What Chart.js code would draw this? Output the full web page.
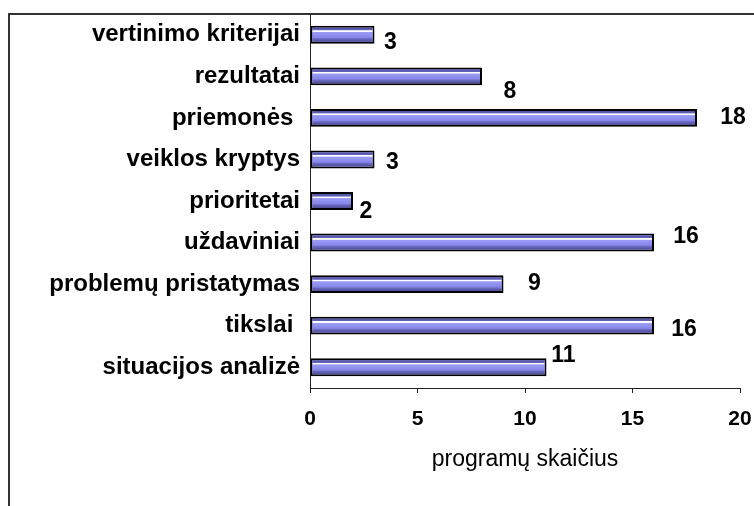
<!DOCTYPE html>
<html>
<head>
<meta charset="utf-8">
<script src="https://cdn.jsdelivr.net/npm/chart.js@4"></script>
<style>
  html, body { margin: 0; padding: 0; background: #fff; }
  #wrap { width: 754px; height: 506px; }
</style>
</head>
<body>
<div id="wrap"><canvas id="chart" width="754" height="506"></canvas></div>
<script>
const categories = ['vertinimo kriterijai', 'rezultatai', 'priemonės ', 'veiklos kryptys', 'prioritetai',
  'uždaviniai', 'problemų pristatymas', 'tikslai ', 'situacijos analizė'];
const programCounts = [3, 8, 18, 3, 2, 16, 9, 16, 11];
const xTicks = [0, 5, 10, 15, 20];
// where each value label sits relative to the bar end (px)
const labelNudge = [[16, 8], [28, 15], [36, 0], [18, 3], [13, 11], [32, -6], [31, 0], [30, 4], [17, -12]];

const FONT = "'Liberation Sans', Arial, sans-serif";

const framePlugin = {
  id: 'frame',
  beforeDraw(chart) {
    const ctx = chart.ctx;
    ctx.save();
    ctx.strokeStyle = '#333';
    ctx.lineWidth = 2;
    ctx.beginPath();
    ctx.moveTo(754, 14);
    ctx.lineTo(9, 14);
    ctx.lineTo(9, 506);
    ctx.stroke();
    ctx.restore();
  }
};

const barShadePlugin = {
  id: 'barShade',
  afterDatasetsDraw(chart) {
    const ctx = chart.ctx;
    const meta = chart.getDatasetMeta(0);
    ctx.save();
    meta.data.forEach((bar, i) => {
      const p = bar.getProps(['x', 'y', 'base', 'height'], true);
      const top = p.y - p.height / 2 + 2;
      const bottom = p.y + p.height / 2 - 2;
      const left = p.base + 2;
      const right = p.x - 2;
      const g = ctx.createLinearGradient(0, top, 0, bottom);
      g.addColorStop(0, '#50509a');
      g.addColorStop(0.16, '#6464c0');
      g.addColorStop(0.2, '#ffffff');
      g.addColorStop(0.27, '#ffffff');
      g.addColorStop(0.32, '#9c9cf6');
      g.addColorStop(0.7, '#8686ea');
      g.addColorStop(0.78, '#6a6ac4');
      g.addColorStop(1, '#4c4c90');
      ctx.fillStyle = g;
      ctx.fillRect(left, top, right - left, bottom - top);

      const n = labelNudge[i];
      ctx.fillStyle = '#000';
      ctx.font = 'bold 23px ' + FONT;
      ctx.textAlign = 'center';
      ctx.textBaseline = 'middle';
      ctx.fillText(String(programCounts[i]), p.x + n[0], p.y + n[1]);
    });
    ctx.restore();
  }
};

new Chart(document.getElementById('chart'), {
  type: 'bar',
  data: {
    labels: categories,
    datasets: [{
      data: programCounts,
      backgroundColor: '#8686ea',
      borderColor: '#000',
      borderWidth: 2,
      borderSkipped: false,
      barPercentage: 0.43,
      categoryPercentage: 1
    }]
  },
  options: {
    indexAxis: 'y',
    responsive: false,
    animation: false,
    layout: { padding: { left: 0, top: 14, right: 14, bottom: 0 } },
    plugins: { legend: { display: false }, tooltip: { enabled: false } },
    scales: {
      y: {
        grid: { display: false, drawTicks: false },
        border: { display: true, color: '#222', width: 1 },
        ticks: { color: '#000', padding: 10, font: { family: FONT, size: 24, weight: 'bold' } },
        afterFit(scale) {
          scale.width = 310;
          scale.paddingTop = 0;
          scale.paddingBottom = 0;
        }
      },
      x: {
        min: 0,
        max: 20,
        afterBuildTicks(scale) { scale.ticks = xTicks.map(v => ({ value: v })); },
        grid: { drawOnChartArea: false, drawTicks: true, tickLength: 5, color: '#222' },
        border: { display: true, color: '#222', width: 1 },
        ticks: { color: '#000', padding: 14, maxRotation: 0, font: { family: FONT, size: 21, weight: 'bold' } },
        title: {
          display: true,
          text: 'programų skaičius',
          color: '#000',
          padding: { top: 0, bottom: 33 },
          font: { family: FONT, size: 23, weight: 'normal' }
        },
        afterFit(scale) {
          scale.height = 118;
          scale.paddingLeft = 0;
          scale.paddingRight = 0;
        }
      }
    }
  },
  plugins: [framePlugin, barShadePlugin]
});
</script>
</body>
</html>
